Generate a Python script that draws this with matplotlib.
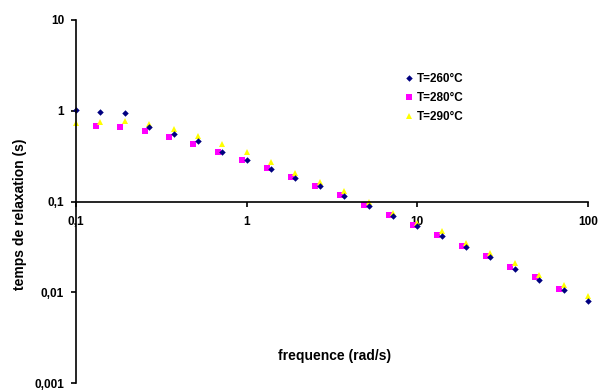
import matplotlib
matplotlib.use("Agg")
import matplotlib.pyplot as plt

plt.rcParams['font.family'] = ['Liberation Sans', 'DejaVu Sans']
plt.rcParams['font.weight'] = 'bold'

# frequencies (rad/s)
freq = [0.1, 0.139, 0.193, 0.268, 0.373, 0.518, 0.720, 1.0, 1.39, 1.93, 2.68,
        3.73, 5.18, 7.20, 10.0, 13.9, 19.3, 26.8, 37.3, 51.8, 72.0, 100.0]
freq_280 = [0.131, 0.182, 0.252, 0.351, 0.487, 0.678, 0.941, 1.31, 1.82, 2.52,
            3.51, 4.87, 6.78, 9.41, 13.1, 18.2, 25.2, 35.1, 48.7, 67.8]

# relaxation times (s)
tau_260 = [1.03, 0.96, 0.94, 0.665, 0.56, 0.463, 0.352, 0.286, 0.229, 0.182, 0.149,
           0.115, 0.0889, 0.0692, 0.0531, 0.0413, 0.0316, 0.0242, 0.0181, 0.01375,
           0.0106, 0.00798]
tau_280 = [0.687, 0.654, 0.591, 0.513, 0.432, 0.352, 0.288, 0.232, 0.187, 0.149,
           0.117, 0.0912, 0.0710, 0.0544, 0.0427, 0.0327, 0.0248, 0.0190, 0.01455,
           0.01097]
tau_290 = [0.735, 0.754, 0.765, 0.71, 0.626, 0.528, 0.427, 0.347, 0.270, 0.208, 0.166,
           0.1306, 0.0993, 0.0754, 0.0577, 0.0469, 0.0349, 0.0272, 0.0208, 0.0154,
           0.0120, 0.00898]

fig = plt.figure(figsize=(5.99, 3.90), dpi=100)
ax = fig.add_axes([76 / 599, 7 / 390, 512 / 599, 363 / 390])

h280, = ax.plot(freq_280, tau_280, 's', color='#ff00ff', markersize=4.2,
                markeredgewidth=0, label='T=280°C', clip_on=False)
h290, = ax.plot(freq, tau_290, '^', color='#ffff00', markersize=5,
                markeredgewidth=0, label='T=290°C', clip_on=False)
h260, = ax.plot(freq, tau_260, 'D', color='#000080', markersize=3.3,
                markeredgewidth=0, label='T=260°C', clip_on=False)

ax.set_xscale('log')
ax.set_yscale('log')
ax.set_xlim(0.1, 100)
ax.set_ylim(0.001, 10)

ax.spines['top'].set_visible(False)
ax.spines['right'].set_visible(False)
ax.spines['bottom'].set_position(('data', 0.1))
for s in ('left', 'bottom'):
    ax.spines[s].set_linewidth(1.2)

ax.set_xticks([0.1, 1, 10, 100])
ax.set_xticklabels(['0,1', '1', '10', '100'])
ax.set_yticks([0.001, 0.01, 0.1, 1, 10])
ax.set_yticklabels(['0,001', '0,01', '0,1', '1', '10'])
ax.minorticks_off()
ax.tick_params(axis='both', direction='out', length=3.5, width=1.2,
               labelsize=8.5)
ax.tick_params(axis='x', pad=7)
ax.tick_params(axis='y', pad=5)

fig.text(20 / 599, 1 - 214 / 390, 'temps de relaxation (s)', rotation=90,
         ha='center', va='center', fontsize=10, fontweight='bold')
fig.text(335 / 599, 1 - 356 / 390, 'frequence (rad/s)',
         ha='center', va='center', fontsize=10, fontweight='bold')

leg = ax.legend(handles=[h260, h280, h290], loc='upper left',
                bbox_to_anchor=(398 / 599, 1 - 67 / 390),
                bbox_transform=fig.transFigure, frameon=False,
                fontsize=8.5, handlelength=0.8, handletextpad=0.3,
                labelspacing=0.6, borderpad=0)

fig.savefig('out.png', dpi=100)
